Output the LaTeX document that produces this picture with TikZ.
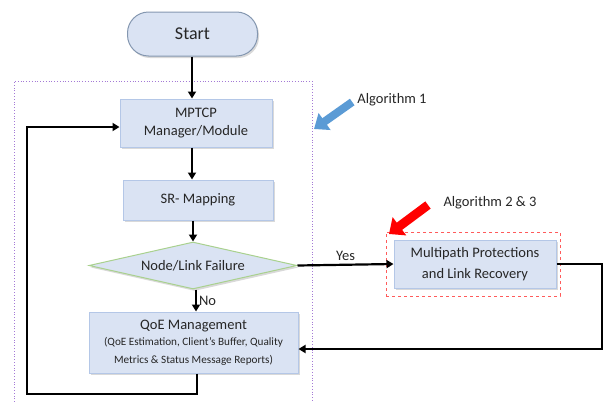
\documentclass[tikz,border=0pt]{standalone}
\usepackage{fontspec}
\setmainfont{Carlito}
\usetikzlibrary{arrows.meta}
\usetikzlibrary{shapes.geometric}
\usetikzlibrary{shadows}
\definecolor{color_flow_box}{HTML}{DAE3F3}
\definecolor{color_flow_border}{HTML}{B4C7E7}
\definecolor{color_flow_start_border}{HTML}{8497B0}
\definecolor{color_flow_cond_border}{HTML}{A9D18E}
\definecolor{color_flow_text}{HTML}{262626}
\definecolor{color_alg_one}{HTML}{5B9BD5}
\definecolor{color_alg_two}{HTML}{FF0000}
\definecolor{color_alg_two_frame}{HTML}{FF5B5B}
\definecolor{color_alg_one_frame}{HTML}{A47AD6}
\def\flowfontsize{\fontsize{14.5}{17.5}\selectfont}
\def\flowstartsize{\fontsize{18}{21}\selectfont}
\def\flownotesize{\fontsize{11.2}{12.5}\selectfont}
\def\flowlinewidth{2.2pt}

\begin{document}
\begin{tikzpicture}[x=1pt,y=-1pt,
        flowbox/.style={draw=color_flow_border, line width=1pt, fill=color_flow_box,
            text=color_flow_text, font=\flowfontsize, align=center, inner sep=0pt,
            drop shadow={shadow xshift=1.5pt, shadow yshift=-2pt, opacity=0.3}},
        flowstart/.style={flowbox, draw=color_flow_start_border, rounded corners=21pt, font=\flowstartsize},
        flowcond/.style={flowbox, diamond, aspect=4.4, draw=color_flow_cond_border},
        flowlabel/.style={text=color_flow_text, font=\flowfontsize, inner sep=2pt},
        flowarrow/.style={black, line width=\flowlinewidth, -{Triangle[length=7pt, width=8pt]}},
        flowline/.style={black, line width=\flowlinewidth}]
        \useasboundingbox (0,0) rectangle (606,402);
        % frame of algorithm 1
        \draw[color_alg_one_frame, dotted, line width=0.8pt] (14,402) -- (14,81) -- (312,81) -- (312,402);
        % the flow boxes
        \node[flowstart, minimum width=130pt, minimum height=44pt] (start) at (192.5,34) {Start};
        \node[flowbox, minimum width=152pt, minimum height=48pt] (mptcp) at (196,123) {MPTCP\\Manager/Module};
        \node[flowbox, minimum width=150pt, minimum height=40pt] (srmap) at (198,200) {SR- Mapping};
        \node[flowcond, minimum width=208pt, minimum height=47pt] (fail) at (193,265.5) {Node/Link Failure};
        \node[flowbox, minimum width=209pt, minimum height=61pt] (qoe) at (193.5,342.5)
            {QoE Management\\[-1pt]{\flownotesize (QoE Estimation, Client's Buffer, Quality}\\{\flownotesize Metrics \& Status Message Reports)}};
        \node[flowbox, font=\fontsize{14.5}{21}\selectfont, minimum width=162pt, minimum height=48pt] (mpr) at (475,264)
            {Multipath Protections\\and Link Recovery};
        % frame of algorithm 2 & 3
        \node[draw=color_alg_two_frame, dashed, line width=0.8pt, minimum width=174pt, minimum height=64pt] (mprframe) at (473,264) {};
        % algorithm labels and their arrows
        \node[flowlabel] (alg1) at (392,100) {Algorithm 1};
        \node[flowlabel] (alg23) at (490,203) {Algorithm 2 \& 3};
        \coordinate (alg1tip) at (314,129);
        \coordinate (alg23tail) at (428,205);
        \coordinate (alg23tip) at (389,234);
        \draw[color_alg_one, line width=8pt, -{Triangle[length=13pt, width=20pt]}] ([xshift=-3pt,yshift=-2pt]alg1.west) -- (alg1tip);
        \draw[color_alg_two, line width=9pt, -{Triangle[length=13pt, width=22pt]}] (alg23tail) -- (alg23tip);
        % the connectors
        \draw[flowarrow] (start.south -| 192,0) -- (mptcp.north -| 192,0);
        \draw[flowarrow] (mptcp.south -| 192,0) -- (srmap.north -| 192,0);
        \draw[flowarrow] (srmap.south -| 193,0) -- (fail.north);
        \draw[flowarrow] (fail.south -| 196,0) -- node[flowlabel, right] (nolabel) {No} (qoe.north -| 196,0);
        \draw[flowarrow] (fail.east) -- node[flowlabel, above=1pt] (yeslabel) {Yes} (mpr.west);
        \coordinate (rightcorner) at (602,349);
        \coordinate (loopcorner) at (27,394);
        \draw[flowarrow] (mpr.east) -| (rightcorner) -- ([yshift=-6.5pt]qoe.east);
        \draw[flowarrow] ([xshift=3.5pt]qoe.south) |- (loopcorner) |- ([yshift=-4pt]mptcp.west);
\end{tikzpicture}
\end{document}
